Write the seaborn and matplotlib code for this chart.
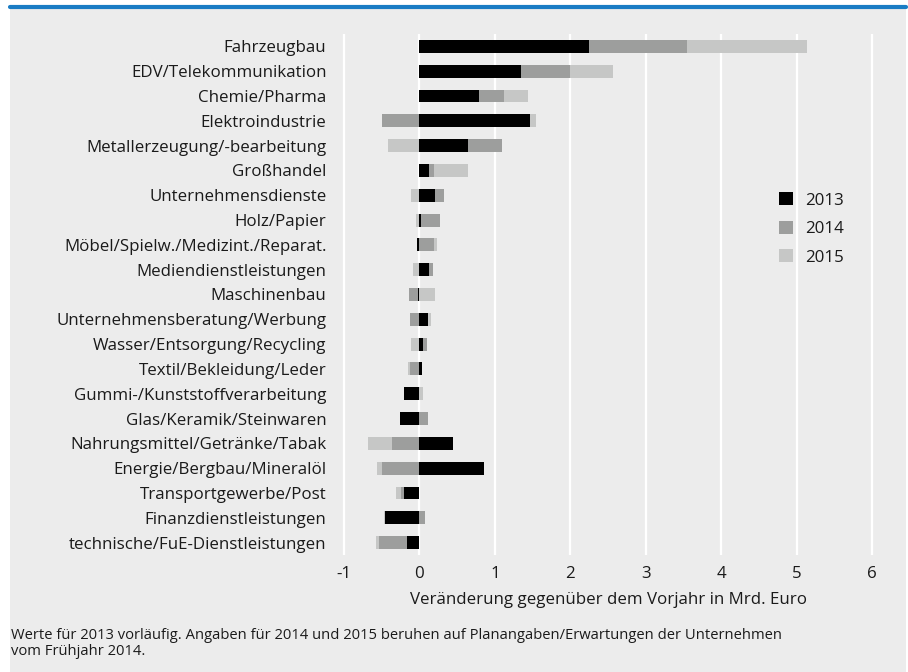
import numpy as np
import matplotlib.pyplot as plt
import matplotlib as mpl
import seaborn as sns
from matplotlib.patches import Patch, Rectangle
from matplotlib.lines import Line2D

# Branchen (von oben nach unten)
categories = [
    "Fahrzeugbau", "EDV/Telekommunikation", "Chemie/Pharma", "Elektroindustrie",
    "Metallerzeugung/-bearbeitung", "Großhandel", "Unternehmensdienste", "Holz/Papier",
    "Möbel/Spielw./Medizint./Reparat.", "Mediendienstleistungen", "Maschinenbau",
    "Unternehmensberatung/Werbung", "Wasser/Entsorgung/Recycling", "Textil/Bekleidung/Leder",
    "Gummi-/Kunststoffverarbeitung", "Glas/Keramik/Steinwaren",
    "Nahrungsmittel/Getränke/Tabak", "Energie/Bergbau/Mineralöl",
    "Transportgewerbe/Post", "Finanzdienstleistungen", "technische/FuE-Dienstleistungen",
]
years = ["2013", "2014", "2015"]
# Veränderung gegenüber Vorjahr, Mrd. Euro
v2013 = [2.25, 1.35, 0.79, 1.47, 0.65, 0.13, 0.21, 0.02, -0.03, 0.13, -0.02,
         0.12, 0.05, 0.03, -0.20, -0.26, 0.45, 0.85, -0.20, -0.46, -0.16]
v2014 = [1.30, 0.65, 0.33, -0.50, 0.44, 0.07, 0.12, 0.25, 0.19, 0.05, -0.12,
         -0.12, 0.05, -0.12, 0.00, 0.11, -0.36, -0.49, -0.04, 0.08, -0.38]
v2015 = [1.59, 0.57, 0.32, 0.08, -0.41, 0.45, -0.11, -0.05, 0.04, -0.08, 0.21,
         0.03, -0.11, -0.03, 0.05, 0.00, -0.32, -0.07, -0.07, -0.01, -0.04]
year_colors = ["#000000", "#9d9e9d", "#c6c7c6"]

sns.set_theme(style="white")
mpl.rcParams["font.family"] = ["Open Sans", "DejaVu Sans"]
mpl.rcParams["axes.unicode_minus"] = False

fig = plt.figure(figsize=(9.08, 6.72), dpi=100)
fig.patch.set_facecolor("white")
# grauer Hintergrund + blaue Linie oben
fig.add_artist(Rectangle((10 / 908, 0), 896 / 908, 1 - 5 / 672,
                         transform=fig.transFigure, facecolor="#ececec",
                         edgecolor="none", zorder=-10))
fig.add_artist(Line2D([10 / 908, 906 / 908], [1 - 6.5 / 672] * 2,
                      transform=fig.transFigure, color="#1a7cc4", lw=3))

ax = fig.add_axes([341.7 / 908, 1 - 555 / 672, (874.3 - 341.7) / 908, (555 - 34) / 672])
ax.set_facecolor("none")

# gestapelt: positive und negative Werte getrennt ab 0
vals = np.array([v2013, v2014, v2015])
pos_cum = np.cumsum(np.clip(vals, 0, None), axis=0)
neg_cum = np.cumsum(np.clip(vals, None, 0), axis=0)
for i in reversed(range(3)):
    for cum in (pos_cum, neg_cum):
        sns.barplot(x=cum[i], y=categories, order=categories, orient="y",
                    color=year_colors[i], saturation=1, width=0.52,
                    linewidth=0, errorbar=None, ax=ax, zorder=3)

fs = 12.2
ax.set_xlim(-1.03, 6.03)
ax.set_xticks(range(-1, 7))
ax.grid(axis="x", color="white", lw=1.6, zorder=1)
ax.grid(axis="y", visible=False)
ax.set_axisbelow(True)
for s in ax.spines.values():
    s.set_visible(False)
ax.tick_params(axis="y", length=0, pad=11, labelsize=fs, labelcolor="#1a1a1a")
ax.tick_params(axis="x", length=0, pad=8, labelsize=fs, labelcolor="#1a1a1a")
ax.set_ylabel("")
ax.set_xlabel("Veränderung gegenüber dem Vorjahr in Mrd. Euro",
              fontsize=fs, color="#1a1a1a", labelpad=7)

handles = [Patch(facecolor=c, edgecolor="none", label=y) for y, c in zip(years, year_colors)]
ax.legend(handles=handles, loc="upper left", bbox_to_anchor=(764 / 908, 1 - 177 / 672),
          bbox_transform=fig.transFigure, frameon=False, handlelength=0.8,
          handleheight=0.8, handletextpad=0.7, labelspacing=0.72, fontsize=fs,
          labelcolor="#1a1a1a")

fig.text(11 / 908, 1 - 628 / 672,
         "Werte für 2013 vorläufig. Angaben für 2014 und 2015 beruhen auf Planangaben/Erwartungen der Unternehmen\nvom Frühjahr 2014.",
         fontsize=10.6, va="top", ha="left", color="#1a1a1a", linespacing=1.05)

fig.savefig("out.png", dpi=100)
